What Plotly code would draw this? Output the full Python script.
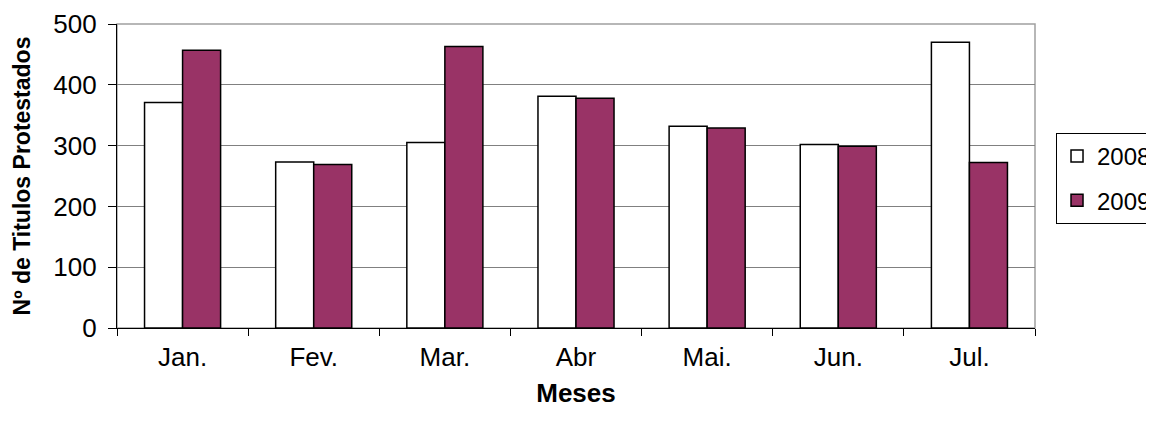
import plotly.graph_objects as go

meses = ["Jan.", "Fev.", "Mar.", "Abr", "Mai.", "Jun.", "Jul."]
v2008 = [371, 273, 305, 381, 332, 302, 470]
v2009 = [457, 269, 463, 378, 329, 299, 272]
y_ticks = [0, 100, 200, 300, 400, 500]

font = "Liberation Sans, Arial, sans-serif"

fig = go.Figure()
fig.add_trace(go.Bar(x=meses, y=v2008, name="2008", legendgroup="a",
                     marker=dict(color="#FFFFFF", line=dict(color="#000000", width=1.5))))
fig.add_trace(go.Bar(x=meses, y=v2009, name="2009", legendgroup="b",
                     marker=dict(color="#993366", line=dict(color="#000000", width=1.5))))

fig.add_shape(type="rect", xref="paper", yref="paper", x0=0, x1=1, y0=0, y1=1,
              line=dict(color="#A0A0A0", width=1.5), layer="below")

fig.update_layout(
    width=1146, height=420,
    margin=dict(l=109, r=119, t=16, b=100, autoexpand=False),
    paper_bgcolor="white", plot_bgcolor="white",
    barmode="group", bargap=0.42, bargroupgap=0,
    font=dict(family=font, size=26, color="#000000"),
    showlegend=True,
    legend=dict(xref="container", yref="container",
                x=0.9145, y=0.7024, xanchor="left", yanchor="top",
                bordercolor="#000000", borderwidth=1, bgcolor="white",
                font=dict(size=24, family=font), itemwidth=30,
                traceorder="grouped", tracegroupgap=10),
    xaxis=dict(
        automargin=False,
        showline=True, linecolor="#000000", linewidth=1.2,
        ticks="outside", ticklen=7, tickcolor="#000000", tickson="boundaries",
        tickfont=dict(size=26, family=font),
        ticklabelstandoff=6,
        title=dict(text="<b>Meses</b>", font=dict(size=26, family=font), standoff=12),
        showgrid=False,
    ),
    yaxis=dict(
        automargin=False,
        range=[0, 500], tickvals=y_ticks,
        showline=True, linecolor="#000000", linewidth=1.2,
        ticks="outside", ticklen=8, tickcolor="#000000",
        tickfont=dict(size=26, family=font),
        ticklabelstandoff=6,
        showgrid=True, gridcolor="#808080", gridwidth=1.2,
        zeroline=False,
        title=dict(text="<b>Nº de Titulos Protestados</b>", font=dict(size=23, family=font), standoff=16),
    ),
)

fig.write_html("out.html")
